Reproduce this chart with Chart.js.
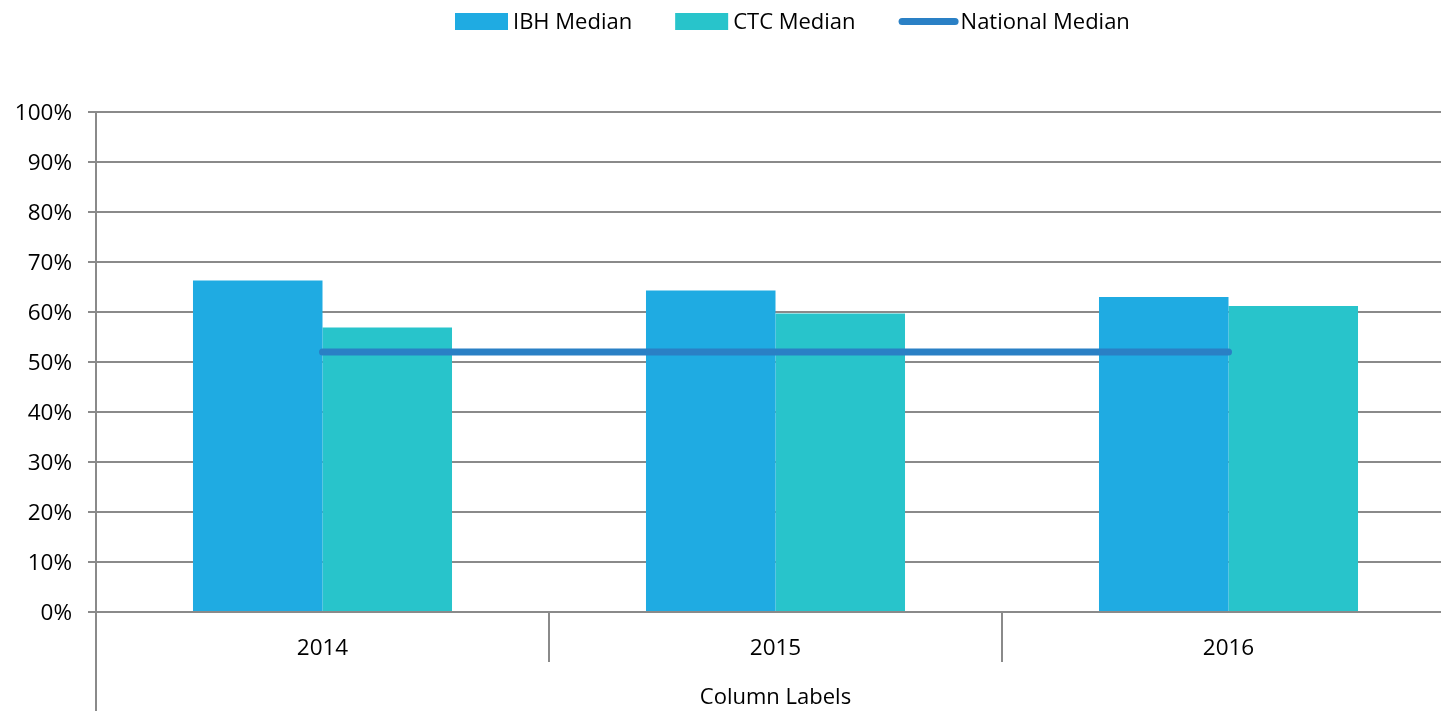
<!DOCTYPE html>
<html>
<head>
<meta charset="utf-8">
<title>Median comparison</title>
<script src="https://cdn.jsdelivr.net/npm/chart.js@4/dist/chart.umd.min.js"></script>
<style>
  html, body { margin: 0; padding: 0; background: #ffffff; overflow: hidden; }
  canvas { display: block; }
</style>
</head>
<body>
<canvas id="chart" width="1455" height="711"></canvas>
<script>
// Years on the category axis
const years = ['2014', '2015', '2016'];
// Series values (percent)
const ibhMedian = [66.3, 64.3, 63.0];
const ctcMedian = [56.9, 59.7, 61.2];
const nationalMedian = [52, 52, 52];
// Value axis ticks
const yTicks = [0, 10, 20, 30, 40, 50, 60, 70, 80, 90, 100];
const xAxisTitle = 'Column Labels';

const FONT = "'Open Sans', 'Liberation Sans', sans-serif";
const GRID = '#8a8a8a';
const TEXT = '#000000';

// Legend drawn across the top with wide swatches and a thick line sample
const topLegend = {
  id: 'topLegend',
  afterDraw(chart) {
    const ctx = chart.ctx;
    const cy = 21.5;
    const boxW = 53, boxH = 17, textGap = 5, itemGap = 43;
    const lineLen = 53, lineGap = 5;
    let x = 455;
    ctx.save();
    ctx.font = '22px ' + FONT;
    ctx.textBaseline = 'middle';
    ctx.textAlign = 'left';
    chart.data.datasets.forEach(ds => {
      if (ds.type === 'line') {
        ctx.strokeStyle = ds.borderColor;
        ctx.lineWidth = ds.borderWidth;
        ctx.lineCap = 'round';
        ctx.beginPath();
        ctx.moveTo(x + 3.5, cy);
        ctx.lineTo(x + 3.5 + lineLen, cy);
        ctx.stroke();
        x += lineLen + 7 + lineGap - 3;
      } else {
        ctx.fillStyle = ds.backgroundColor;
        ctx.fillRect(x, cy - boxH / 2, boxW, boxH);
        x += boxW + textGap;
      }
      ctx.fillStyle = TEXT;
      ctx.fillText(ds.label, x, cy + 1);
      x += ctx.measureText(ds.label).width + itemGap;
    });
    ctx.restore();
  }
};

// Value axis line continues down through the category label band
const axisExtension = {
  id: 'axisExtension',
  afterDraw(chart) {
    const ctx = chart.ctx;
    const x = Math.round(chart.chartArea.left);
    ctx.save();
    ctx.strokeStyle = GRID;
    ctx.lineWidth = 2;
    ctx.beginPath();
    ctx.moveTo(x, chart.chartArea.bottom);
    ctx.lineTo(x, chart.height);
    ctx.stroke();
    ctx.restore();
  }
};

new Chart(document.getElementById('chart'), {
  data: {
    labels: years,
    datasets: [
      {
        type: 'bar',
        label: 'IBH Median',
        data: ibhMedian,
        backgroundColor: '#1fabe2',
        borderWidth: 0,
        categoryPercentage: 0.5718,
        barPercentage: 1,
        order: 2
      },
      {
        type: 'bar',
        label: 'CTC Median',
        data: ctcMedian,
        backgroundColor: '#28c4cb',
        borderWidth: 0,
        categoryPercentage: 0.5718,
        barPercentage: 1,
        order: 2
      },
      {
        type: 'line',
        label: 'National Median',
        data: nationalMedian,
        borderColor: '#2a80c5',
        backgroundColor: '#2a80c5',
        borderWidth: 7,
        borderCapStyle: 'round',
        pointRadius: 0,
        pointHoverRadius: 0,
        tension: 0,
        order: 1
      }
    ]
  },
  options: {
    responsive: false,
    devicePixelRatio: 1,
    animation: false,
    layout: { padding: { top: 112, left: 0, right: 0, bottom: 0 } },
    plugins: {
      legend: { display: false },
      tooltip: { enabled: false }
    },
    scales: {
      x: {
        type: 'category',
        offset: true,
        grid: {
          offset: true,
          drawOnChartArea: false,
          drawTicks: true,
          tickLength: 50,
          color: GRID,
          lineWidth: 2
        },
        border: { display: false },
        ticks: {
          color: TEXT,
          font: { family: FONT, size: 22.5 },
          padding: -27,
          maxRotation: 0
        },
        title: {
          display: true,
          text: xAxisTitle,
          color: TEXT,
          font: { family: FONT, size: 22 },
          padding: { top: 0, bottom: 0 }
        },
        afterFit(scale) { scale.height = 99; }
      },
      y: {
        min: yTicks[0],
        max: yTicks[yTicks.length - 1],
        afterBuildTicks(scale) { scale.ticks = yTicks.map(v => ({ value: v })); },
        grid: {
          color: GRID,
          lineWidth: 2,
          drawTicks: true,
          tickLength: 8
        },
        border: { display: true, color: GRID, width: 2 },
        ticks: {
          color: TEXT,
          font: { family: FONT, size: 22.5 },
          padding: 16,
          labelOffset: 2,
          callback: v => v + '%'
        },
        afterFit(scale) { scale.width = 96; }
      }
    }
  },
  plugins: [axisExtension, topLegend]
});
</script>
</body>
</html>
